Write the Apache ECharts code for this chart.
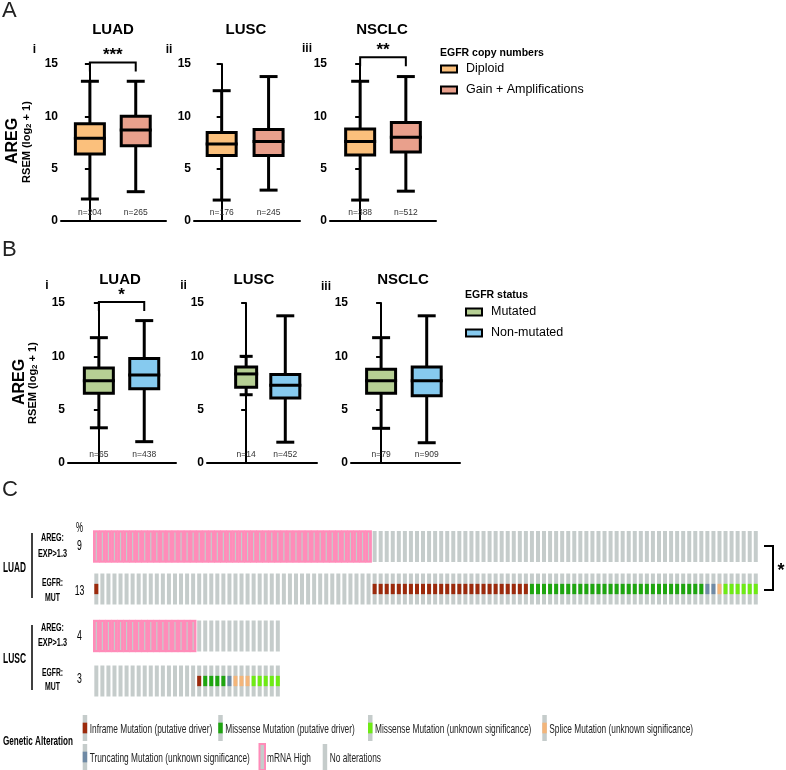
<!DOCTYPE html>
<html><head><meta charset="utf-8">
<script src="https://cdn.jsdelivr.net/npm/echarts/dist/echarts.min.js"></script>
<style>html,body{margin:0;padding:0;background:#fff}#c{width:786px;height:770px}</style>
</head><body><div id="c"></div>
<script>
// ---------------- data ----------------
const copyGroups = ['Diploid', 'Gain + Amplifications'];
const statusGroups = ['Mutated', 'Non-mutated'];
const cancerTypes = ['LUAD', 'LUSC', 'NSCLC'];
const panelNumerals = ['i', 'ii', 'iii'];
const yTicks = [0, 5, 10, 15];
// box stats: [min, Q1, median, Q3, max]
const copyLUAD  = [[2.1, 6.4, 7.9, 9.3, 13.35], [2.8, 7.2, 8.7, 10.0, 13.35]];
const copyLUSC  = [[2.0, 6.25, 7.35, 8.45, 12.45], [2.95, 6.25, 7.6, 8.75, 13.8]];
const copyNSCLC = [[2.0, 6.3, 7.6, 8.8, 13.35], [2.85, 6.6, 8.0, 9.4, 13.8]];
const copyN = [[204, 265], [176, 245], [388, 512]];
const copySig = ['***', '', '**'];
const copySigLevel = [15.15, null, 15.65];
const statusLUAD  = [[3.3, 6.55, 7.7, 8.9, 11.75], [2.0, 6.95, 8.25, 9.8, 13.35]];
const statusLUSC  = [[6.4, 7.1, 8.35, 9.0, 10.0], [1.95, 6.1, 7.3, 8.3, 13.8]];
const statusNSCLC = [[3.25, 6.55, 7.7, 8.8, 11.75], [1.9, 6.3, 7.7, 9.0, 13.8]];
const statusN = [[65, 438], [14, 452], [79, 909]];
const statusSig = ['*', '', ''];
const statusSigLevel = [15.1, null, null];

// oncoprint (run-length: [alteration, number of samples])
const alterations = ['none', 'mrna_high', 'inframe_driver', 'missense_driver', 'missense_vus', 'splice_vus', 'trunc_vus'];
const alterationLabels = {
  inframe_driver: 'Inframe Mutation (putative driver)',
  missense_driver: 'Missense Mutation (putative driver)',
  missense_vus: 'Missense Mutation (unknown significance)',
  splice_vus: 'Splice Mutation (unknown significance)',
  trunc_vus: 'Truncating Mutation (unknown significance)',
  mrna_high: 'mRNA High',
  none: 'No alterations'
};
const oncoRowLabels = [['AREG:', 'EXP>1.3'], ['EGFR:', 'MUT']];
const oncoCohorts = ['LUAD', 'LUSC'];
const luadPct = [9, 13];
const luscPct = [4, 3];
const luadAREG = [['mrna_high', 46], ['none', 64]];
const luadEGFR = [['inframe_driver', 1], ['none', 45], ['inframe_driver', 26], ['missense_driver', 29], ['trunc_vus', 2], ['splice_vus', 1], ['missense_vus', 6]];
const luscAREG = [['mrna_high', 17], ['none', 14]];
const luscEGFR = [['none', 17], ['inframe_driver', 1], ['missense_driver', 4], ['trunc_vus', 1], ['splice_vus', 3], ['missense_vus', 5]];

// ---------------- styles ----------------
const FONT = "'Liberation Sans', Arial, Helvetica, sans-serif";
const copyColors = ['#fbc07c', '#e9a08c'];
const statusColors = ['#b6cf94', '#86caef'];
const altColors = {
  none: '#c5cccb', mrna_high: '#ff8cb9', inframe_driver: '#9c2a0c', missense_driver: '#1ea50f',
  missense_vus: '#6eeb14', splice_vus: '#f3b57a', trunc_vus: '#6f8aa5'
};
const boxGrids = [
  {left: 61, top: 64, width: 105, height: 157, xr: [-0.63, 1.66], bw: [29, 29]},
  {left: 194, top: 64, width: 106, height: 157, xr: [-0.59, 1.67], bw: [29, 29]},
  {left: 330, top: 64, width: 106, height: 157, xr: [-0.66, 1.66], bw: [29, 29]},
  {left: 68, top: 303, width: 108, height: 160, xr: [-0.68, 1.70], bw: [29, 29]},
  {left: 207, top: 303, width: 110, height: 160, xr: [-1.0, 1.81], bw: [21, 29]},
  {left: 351, top: 303, width: 109, height: 160, xr: [-0.66, 1.73], bw: [29, 29]}
];
const oncoGrids = [
  {left: 93.3, top: 525.25, width: 665.5, height: 85},
  {left: 93.3, top: 613.5, width: 665.5, height: 90}
];

// ---------------- build ----------------
const grid = [], xAxis = [], yAxis = [], series = [], graphic = [];

function boxRenderer(bwArr) {
  return function (params, api) {
    const gi = api.value(0);
    const mn = api.value(1), q1 = api.value(2), md = api.value(3), q3 = api.value(4), mx = api.value(5);
    const n = api.value(6);
    const bw = bwArr[gi], cw = bw * 0.62;
    const x = api.coord([gi, 0])[0];
    const y = v => api.coord([gi, v])[1];
    const ln = {stroke: '#000', lineWidth: 3};
    return {type: 'group', children: [
      {type: 'line', shape: {x1: x, y1: y(mx), x2: x, y2: y(q3)}, style: ln},
      {type: 'line', shape: {x1: x, y1: y(q1), x2: x, y2: y(mn)}, style: ln},
      {type: 'line', shape: {x1: x - cw / 2, y1: y(mx), x2: x + cw / 2, y2: y(mx)}, style: ln},
      {type: 'line', shape: {x1: x - cw / 2, y1: y(mn), x2: x + cw / 2, y2: y(mn)}, style: ln},
      {type: 'rect', shape: {x: x - bw / 2, y: y(q3), width: bw, height: y(q1) - y(q3)},
        style: {fill: api.visual('color'), stroke: '#000', lineWidth: 3}},
      {type: 'line', shape: {x1: x - bw / 2 - 1.5, y1: y(md), x2: x + bw / 2 + 1.5, y2: y(md)}, style: ln},
      {type: 'text', x: x, y: y(0.82), style: {text: 'n=' + n, font: '8.5px ' + FONT, fill: '#333',
        textAlign: 'center', textVerticalAlign: 'middle'}}
    ]};
  };
}

function sigRenderer(stars) {
  return function (params, api) {
    const lvl = api.value(2);
    const p0 = api.coord([api.value(0), lvl]), p1 = api.coord([api.value(1), lvl]);
    return {type: 'group', children: [
      {type: 'polyline', shape: {points: [[p0[0], p0[1] + 9], p0, p1, [p1[0], p1[1] + 9]]},
        style: {stroke: '#000', lineWidth: 2, fill: null}},
      {type: 'text', x: (p0[0] + p1[0]) / 2, y: p0[1] - 7,
        style: {text: stars, font: 'bold 17px ' + FONT, fill: '#000', textAlign: 'center', textVerticalAlign: 'middle'}}
    ]};
  };
}

const boxPanels = [
  {stats: copyLUAD, n: copyN[0], groups: copyGroups, colors: copyColors, sig: copySig[0], sigLvl: copySigLevel[0]},
  {stats: copyLUSC, n: copyN[1], groups: copyGroups, colors: copyColors, sig: copySig[1], sigLvl: copySigLevel[1]},
  {stats: copyNSCLC, n: copyN[2], groups: copyGroups, colors: copyColors, sig: copySig[2], sigLvl: copySigLevel[2]},
  {stats: statusLUAD, n: statusN[0], groups: statusGroups, colors: statusColors, sig: statusSig[0], sigLvl: statusSigLevel[0]},
  {stats: statusLUSC, n: statusN[1], groups: statusGroups, colors: statusColors, sig: statusSig[1], sigLvl: statusSigLevel[1]},
  {stats: statusNSCLC, n: statusN[2], groups: statusGroups, colors: statusColors, sig: statusSig[2], sigLvl: statusSigLevel[2]}
];

boxPanels.forEach((p, i) => {
  const g = boxGrids[i];
  grid.push({left: g.left, top: g.top, width: g.width, height: g.height, containLabel: false});
  xAxis.push({type: 'value', gridIndex: i, min: g.xr[0], max: g.xr[1],
    axisLine: {show: true, onZero: false, lineStyle: {color: '#000', width: 2}},
    axisTick: {show: false}, axisLabel: {show: false}, splitLine: {show: false}});
  yAxis.push({type: 'value', gridIndex: i, min: yTicks[0], max: yTicks[yTicks.length - 1], interval: 5,
    axisLine: {show: true, lineStyle: {color: '#000', width: 2}},
    axisTick: {show: true, length: 5, lineStyle: {color: '#000', width: 2}},
    axisLabel: {color: '#000', fontWeight: 'bold', fontSize: 12, fontFamily: FONT, margin: 3},
    splitLine: {show: false}});
  p.groups.forEach((name, gi) => {
    series.push({type: 'custom', name: name, xAxisIndex: i, yAxisIndex: i,
      itemStyle: {color: p.colors[gi]},
      renderItem: boxRenderer(g.bw),
      data: [[gi].concat(p.stats[gi]).concat([p.n[gi]])],
      silent: true, clip: false});
  });
  if (p.sig) {
    series.push({type: 'custom', name: 'sig' + i, xAxisIndex: i, yAxisIndex: i,
      renderItem: sigRenderer(p.sig), data: [[0, 1, p.sigLvl]], silent: true, clip: false});
  }
});

// oncoprint
function expand(runs, row) {
  const out = []; let s = 0;
  runs.forEach(([code, count]) => { for (let j = 0; j < count; j++) out.push([s++, row, alterations.indexOf(code)]); });
  return out;
}
function cellRenderer(params, api) {
  const s = api.value(0), r = api.value(1), code = alterations[api.value(2)];
  const c = api.coord([s, r]);
  const pitch = api.size([1, 0])[0];
  const h = 31, w = 4;
  const ch = [];
  if (code === 'mrna_high') {
    ch.push({type: 'rect', shape: {x: c[0] - pitch / 2 - 0.3, y: c[1] - h / 2 - 0.7, width: pitch + 0.6, height: h + 1.4}, style: {fill: altColors.mrna_high}});
    ch.push({type: 'rect', shape: {x: c[0] - 0.6, y: c[1] - h / 2 + 1.5, width: 1.2, height: h - 3}, style: {fill: altColors.none}});
  } else {
    ch.push({type: 'rect', shape: {x: c[0] - w / 2, y: c[1] - h / 2, width: w, height: h}, style: {fill: altColors.none}});
    if (code !== 'none') ch.push({type: 'rect', shape: {x: c[0] - w / 2, y: c[1] - h / 6, width: w, height: h / 3}, style: {fill: altColors[code]}});
  }
  return {type: 'group', children: ch};
}
const oncoData = [
  expand(luadAREG, 0).concat(expand(luadEGFR, 1)),
  expand(luscAREG, 0).concat(expand(luscEGFR, 1))
];
oncoGrids.forEach((g, k) => {
  const gi = boxGrids.length + k;
  grid.push({left: g.left, top: g.top, width: g.width, height: g.height});
  xAxis.push({type: 'value', gridIndex: gi, min: -0.5, max: 109.5, show: false});
  yAxis.push({type: 'category', gridIndex: gi, data: oncoRowLabels.map(l => l.join(' ')), inverse: true, show: false});
  series.push({type: 'custom', name: 'onco' + k, xAxisIndex: gi, yAxisIndex: gi,
    renderItem: cellRenderer, data: oncoData[k], silent: true, clip: false});
});

// ---------------- text annotations ----------------
const mctx = document.createElement('canvas').getContext('2d');
function measure(text, font) { mctx.font = font; return mctx.measureText(text).width; }
function txt(text, x, y, font, opts) {
  opts = opts || {};
  let sx = opts.sx || 1;
  if (opts.w) sx = opts.w / measure(text, font);
  return {type: 'text', x: x, y: y, rotation: opts.rot || 0, scaleX: sx, originX: 0, originY: 0,
    style: {text: text, font: font, fill: opts.fill || '#000', textAlign: opts.align || 'center',
      textVerticalAlign: 'middle', rich: opts.rich}};
}
// panel letters
graphic.push(txt('A', 2, 11, '22px ' + FONT, {align: 'left', fill: '#222'}));
graphic.push(txt('B', 2, 250, '22px ' + FONT, {align: 'left', fill: '#222'}));
graphic.push(txt('C', 2, 490, '22px ' + FONT, {align: 'left', fill: '#222'}));
// titles & numerals
const titlePosA = [[113, 30], [246, 30], [382, 30]];
const titlePosB = [[120, 280], [254, 280], [403, 280]];
const numPosA = [[34.5, 50], [169, 50], [307, 49]];
const numPosB = [[47, 286], [183.5, 286], [326, 287]];
cancerTypes.forEach((t, i) => {
  graphic.push(txt(t, titlePosA[i][0], titlePosA[i][1], 'bold 15px ' + FONT));
  graphic.push(txt(t, titlePosB[i][0], titlePosB[i][1], 'bold 15px ' + FONT));
  graphic.push(txt(panelNumerals[i], numPosA[i][0], numPosA[i][1], 'bold 12px ' + FONT));
  graphic.push(txt(panelNumerals[i], numPosB[i][0], numPosB[i][1], 'bold 12px ' + FONT));
});
// y titles
const rsemRich = {a: {font: 'bold 11px ' + FONT, fill: '#000'}, b: {font: 'bold 8px ' + FONT, fill: '#000', padding: [4, 0, 0, 0]}};
[[13, 141, 27, 142], [20, 382, 33, 383]].forEach(p => {
  graphic.push(txt('AREG', p[0], p[1], 'bold 16px ' + FONT, {rot: Math.PI / 2}));
  graphic.push(txt('{a|RSEM (log}{b|2}{a| + 1)}', p[2], p[3], 'bold 11px ' + FONT, {rot: Math.PI / 2, rich: rsemRich}));
});
// legend titles
graphic.push(txt('EGFR copy numbers', 440, 53, 'bold 10.5px ' + FONT, {align: 'left'}));
graphic.push(txt('EGFR status', 465, 295, 'bold 10.5px ' + FONT, {align: 'left'}));

// oncoprint labels
graphic.push(txt('%', 79.5, 528, '14px ' + FONT, {w: 7}));
const rowLabW = [[23, 29], [21, 15]];
[[luadPct, [546, 591], 568, [533, 598], [[538, 554], [583, 598]]],
 [luscPct, [636, 679], 659, [625, 690], [[628, 643], [673, 687]]]].forEach((c, k) => {
  c[0].forEach((v, r) => graphic.push(txt(String(v), 79.5, c[1][r], '14px ' + FONT, {sx: 0.62})));
  graphic.push(txt(oncoCohorts[k], 14.5, c[2], 'bold 14px ' + FONT, {w: 23}));
  graphic.push({type: 'line', shape: {x1: 32, y1: c[3][0], x2: 32, y2: c[3][1]}, style: {stroke: '#000', lineWidth: 1.5}});
  oncoRowLabels.forEach((lab, r) => {
    graphic.push(txt(lab[0], 52.5, c[4][r][0], 'bold 11px ' + FONT, {w: rowLabW[r][0]}));
    graphic.push(txt(lab[1], 52.5, c[4][r][1], 'bold 11px ' + FONT, {w: rowLabW[r][1]}));
  });
});
// comparison bracket
graphic.push({type: 'polyline', shape: {points: [[764, 546], [773, 546], [773, 590], [764, 590]]}, style: {stroke: '#000', lineWidth: 2, fill: null}});
graphic.push(txt('*', 781, 571, 'bold 18px ' + FONT));

// oncoprint legend (uniformly condensed text)
graphic.push(txt('Genetic Alteration', 3, 741, 'bold 13px ' + FONT, {align: 'left', w: 70}));
const LEG_FONT = '13px ' + FONT, LEG_SX = 0.64;
const legRows = [
  {y: 728, items: ['inframe_driver', 'missense_driver', 'missense_vus', 'splice_vus'], fixed: [82.7, null, 368, 542.3]},
  {y: 757, items: ['trunc_vus', 'mrna_high', 'none'], fixed: [82.7, 260, 322.7]}
];
legRows.forEach(row => {
  let cursor = 0;
  row.items.forEach((code, j) => {
    const sx = row.fixed[j] != null ? row.fixed[j] : cursor;
    const sy = row.y, h = 26;
    if (code === 'mrna_high') {
      graphic.push({type: 'rect', shape: {x: sx - 0.5, y: sy - h / 2, width: 5.5, height: h}, style: {fill: altColors.none, stroke: altColors.mrna_high, lineWidth: 2}});
    } else {
      graphic.push({type: 'rect', shape: {x: sx, y: sy - h / 2, width: 4.5, height: h}, style: {fill: altColors.none}});
      if (code !== 'none') graphic.push({type: 'rect', shape: {x: sx, y: sy - h / 6 - 1, width: 4.5, height: h / 3 + 2}, style: {fill: altColors[code]}});
    }
    const tx = sx + 7;
    graphic.push(txt(alterationLabels[code], tx, sy + 1, LEG_FONT, {align: 'left', sx: LEG_SX, fill: '#222'}));
    cursor = tx + measure(alterationLabels[code], LEG_FONT) * LEG_SX + 6;
  });
});

const legendCommon = {orient: 'vertical', icon: 'rect', itemWidth: 16, itemHeight: 7, itemGap: 7, padding: 0,
  itemStyle: {borderColor: '#000', borderWidth: 2}, selectedMode: false,
  textStyle: {fontSize: 12.5, color: '#000', fontFamily: FONT, lineHeight: 14, padding: [0, 0, 0, 4]}};

const chart = echarts.init(document.getElementById('c'), null, {renderer: 'canvas'});
chart.setOption({
  animation: false,
  backgroundColor: '#fff',
  grid: grid, xAxis: xAxis, yAxis: yAxis, series: series,
  legend: [
    Object.assign({}, legendCommon, {data: copyGroups, left: 440, top: 62}),
    Object.assign({}, legendCommon, {data: statusGroups, left: 465, top: 305})
  ],
  graphic: {elements: graphic}
});
</script></body></html>
